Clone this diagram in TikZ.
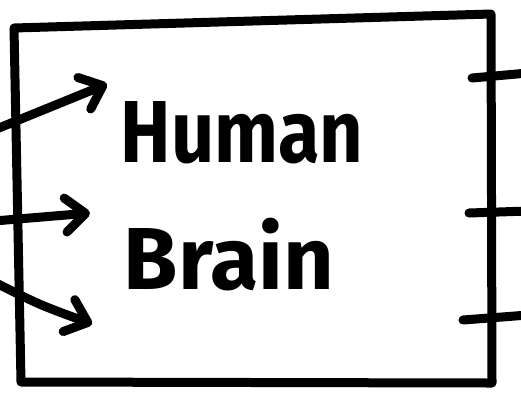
\documentclass[tikz,border=0pt]{standalone}
\usepackage{fontspec}
\setmainfont{Fira Sans}
\usetikzlibrary{arrows.meta}

\tikzset{
  ink/.style={line width=9pt, line cap=round, line join=round},
  inarrow/.style={ink, -{Straight Barb[length=20pt,width=34pt,round]}},
  word/.style={inner sep=0pt, font=\fontsize{88}{88}\selectfont\bfseries},
}

\begin{document}
\begin{tikzpicture}[x=1pt,y=-1pt]
\useasboundingbox (0,0) rectangle (521,392);

% the box
\coordinate (tl) at (14,28);
\coordinate (tr) at (491,14);
\coordinate (br) at (492,383);
\coordinate (bl) at (21,382);
\draw[ink] (tl) -- (tr) -- (br) -- (bl) -- cycle;

% inputs
\coordinate (in1) at (-6,130);
\coordinate (in2) at (-6,221);
\coordinate (in3) at (-6,282);
\coordinate (h1) at (107,84);
\coordinate (h2) at (90,213);
\coordinate (h3) at (92,324);

\draw[inarrow] (in1) -- (h1);
\draw[inarrow] (in2) -- (h2);
\draw[inarrow] (in3) .. controls (40,305) .. (h3);

% outputs
\coordinate (o1) at (472,78);
\coordinate (o2) at (469,213);
\coordinate (o3) at (463,320);
\coordinate (e1) at (528,73);
\coordinate (e2) at (528,211);
\coordinate (e3) at (528,315);

\draw[ink] (o1) -- (e1);
\draw[ink] (o2) -- (e2);
\draw[ink] (o3) -- (e3);

% label
\node[word] (human) at (242,133) {\scalebox{0.86}[1]{Human}};
\node[word] (brain) at (229,255) {Brain};
\end{tikzpicture}
\end{document}
